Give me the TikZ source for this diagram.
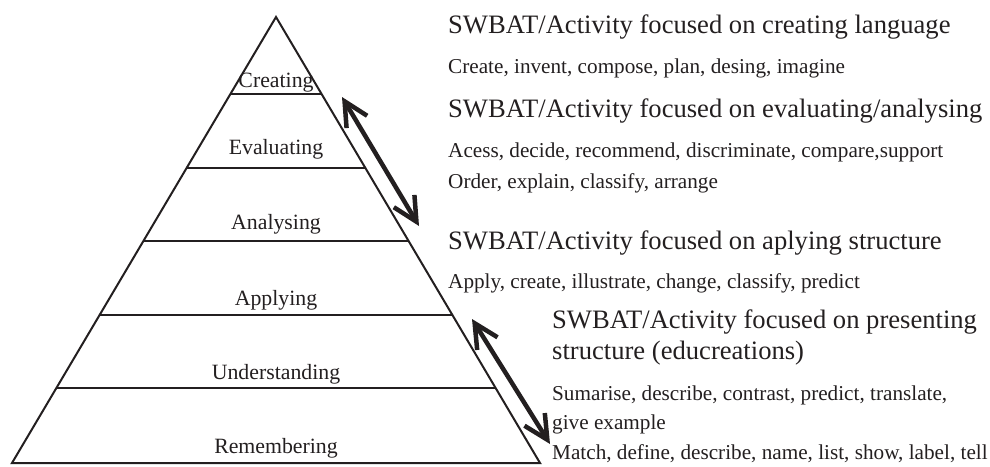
\documentclass[tikz,border=0pt]{standalone}
\usepackage{fontspec}
\setmainfont{Liberation Serif}
\usetikzlibrary{calc,arrows.meta}
\definecolor{ink}{HTML}{231F20}
\tikzset{
  level/.style={anchor=base, inner sep=0pt, text=ink, font=\fontsize{21.8}{24}\selectfont},
  heading/.style={anchor=base west, inner sep=0pt, text=ink, font=\fontsize{26.6}{30}\selectfont},
  verbs/.style={anchor=base west, inner sep=0pt, text=ink, font=\fontsize{21.2}{24}\selectfont},
  edge/.style={draw=ink, line width=2pt},
  twoway/.style={draw=ink, line width=4.5pt, {Straight Barb[length=24pt,width=24pt]}-{Straight Barb[length=24pt,width=24pt]}}
}
\begin{document}
\begin{tikzpicture}[x=1pt,y=-1pt]
\useasboundingbox (0,0) rectangle (990,466);

% pyramid outline
\coordinate (apex) at (276,17);
\coordinate (bl) at (12,463);
\coordinate (br) at (540,463);
\draw[edge, line join=miter] (bl) -- (apex) -- (br) -- cycle;

% horizontal dividers between the levels
\foreach \yy/\nm in {94/d1,168/d2,241/d3,315/d4,388/d5}{
  \coordinate (\nm l) at ($(apex)!{(\yy-17)/446}!(bl)$);
  \coordinate (\nm r) at ($(apex)!{(\yy-17)/446}!(br)$);
  \draw[edge] (\nm l) -- (\nm r);
}

% level names
\node[level] (creating) at (276,87) {Creating};
\node[level] (evaluating) at (276,154) {Evaluating};
\node[level] (analysing) at (276,229) {Analysing};
\node[level] (applying) at (276,305) {Applying};
\node[level] (understanding) at (276,379) {Understanding};
\node[level] (remembering) at (276,453) {Remembering};

% descriptions on the right
\node[heading] (h1) at (448,33) {SWBAT/Activity focused on creating language};
\node[verbs] (v1) at (448,73) {Create, invent, compose, plan, desing, imagine};
\node[heading] (h2) at (448,117) {SWBAT/Activity focused on evaluating/analysing};
\node[verbs] (v2) at (448,157) {Acess, decide, recommend, discriminate, compare,support};
\node[verbs] (v3) at (448,188) {Order, explain, classify, arrange};
\node[heading] (h3) at (448,249) {SWBAT/Activity focused on aplying structure};
\node[verbs] (v4) at (448,288) {Apply, create, illustrate, change, classify, predict};
\node[heading] (h4) at (552,328) {SWBAT/Activity focused on presenting};
\node[heading] (h5) at (552,359) {structure (educreations)};
\node[verbs] (v5) at (552,400) {Sumarise, describe, contrast, predict, translate,};
\node[verbs] (v6) at (552,429) {give example};
\node[verbs] (v7) at (552,459) {Match, define, describe, name, list, show, label, tell};

% double-headed arrows along the right edge
\coordinate (a1top) at (342,97);
\coordinate (a1bot) at (419,226);
\coordinate (a2top) at (472,319);
\coordinate (a2bot) at (550,444);
\draw[twoway] (a1top) -- (a1bot);
\draw[twoway] (a2top) -- (a2bot);
\end{tikzpicture}
\end{document}
